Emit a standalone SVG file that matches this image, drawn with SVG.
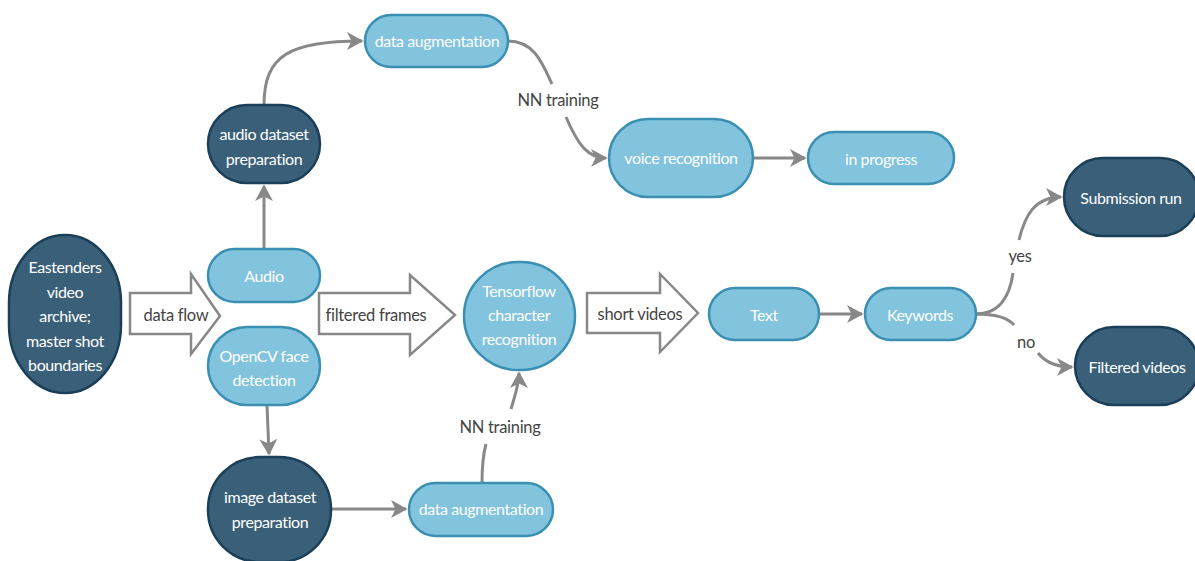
<svg xmlns="http://www.w3.org/2000/svg" width="1195" height="561" viewBox="0 0 1195 561">
<defs>
<style>
.lt{fill:#82c3dd;stroke:#3a8fb2;stroke-width:2.5}
.dk{fill:#3a6079;stroke:#1b3f58;stroke-width:2.5}
.nt{fill:#ffffff;font-family:Lato,"Open Sans",sans-serif;font-size:16px;letter-spacing:-0.4px;text-anchor:middle}
.lb{fill:#444444;font-family:Lato,"Open Sans",sans-serif;font-size:16.5px;letter-spacing:-0.3px;text-anchor:middle}
.cn{fill:none;stroke:#888888;stroke-width:3}
.ba{fill:#ffffff;stroke:#888888;stroke-width:2.5}
</style>
<marker id="ah" viewBox="0 0 12 12" refX="10" refY="6" markerWidth="6" markerHeight="6" markerUnits="strokeWidth" orient="auto">
<path d="M0,0 L11,6 L0,12 L3,6 z" fill="#888888"/>
</marker>
</defs>
<rect width="1195" height="561" fill="#ffffff"/>
<g id="connectors">
<path class="cn" d="M264,249 L264,186" marker-end="url(#ah)"/>
<path class="cn" d="M264,105 C264,55 290,41 362,41" marker-end="url(#ah)"/>
<path class="cn" d="M508,41 C535,41 543,65 552,84"/>
<path class="cn" d="M566,117 C578,145 588,158 606,158" marker-end="url(#ah)"/>
<path class="cn" d="M753,158 L805,158" marker-end="url(#ah)"/>
<path class="cn" d="M267,405 L269,454" marker-end="url(#ah)"/>
<path class="cn" d="M331,509 L406,509" marker-end="url(#ah)"/>
<path class="cn" d="M482,483 C482,465 483,455 486,444"/>
<path class="cn" d="M511,409 C515,395 519,385 519,373" marker-end="url(#ah)"/>
<path class="cn" d="M819,314 L862,314" marker-end="url(#ah)"/>
<path class="cn" d="M976,314 C1000,314 1010,295 1013,273"/>
<path class="cn" d="M1019,240 C1025,215 1035,197 1061,197" marker-end="url(#ah)"/>
<path class="cn" d="M976,314 C995,314 1008,318 1014,325"/>
<path class="cn" d="M1038,353 C1045,362 1055,367 1072,367" marker-end="url(#ah)"/>
</g>
<g id="labels">
<text class="lb" x="558" y="106">NN training</text>
<text class="lb" x="500" y="433">NN training</text>
<text class="lb" x="1020" y="262">yes</text>
<text class="lb" x="1026" y="348">no</text>
</g>
<g id="arrow-dataflow">
<path class="ba" d="M130,293 L191,293 L191,274 L220,316 L191,354 L191,334 L130,334 z"/>
<text class="lb" x="176" y="321">data flow</text>
</g>
<g id="arrow-filtered">
<path class="ba" d="M319,293 L410,293 L410,275 L455,315 L410,355 L410,334 L319,334 z"/>
<text class="lb" x="376" y="321">filtered frames</text>
</g>
<g id="arrow-short">
<path class="ba" d="M587,293 L660,293 L660,274 L698,313 L660,352 L660,333 L587,333 z"/>
<text class="lb" x="640" y="320">short videos</text>
</g>
<g id="n-eastenders">
<rect class="dk" x="9" y="235" width="112" height="158" rx="56" ry="68"/>
<text class="nt" x="65" y="273">Eastenders</text>
<text class="nt" x="65" y="297.5">video</text>
<text class="nt" x="65" y="322">archive;</text>
<text class="nt" x="65" y="346.5">master shot</text>
<text class="nt" x="65" y="371">boundaries</text>
</g>
<g id="n-audio">
<rect class="lt" x="208" y="249" width="112" height="53" rx="26.5"/>
<text class="nt" x="264" y="282">Audio</text>
</g>
<g id="n-opencv">
<rect class="lt" x="208" y="327" width="112" height="78" rx="39"/>
<text class="nt" x="264" y="362">OpenCV face</text>
<text class="nt" x="264" y="386">detection</text>
</g>
<g id="n-audioprep">
<rect class="dk" x="208" y="105" width="112" height="78" rx="39"/>
<text class="nt" x="264" y="140">audio dataset</text>
<text class="nt" x="264" y="165">preparation</text>
</g>
<g id="n-dataaug-top">
<rect class="lt" x="365" y="15" width="143" height="52" rx="26"/>
<text class="nt" x="437" y="47">data augmentation</text>
</g>
<g id="n-voice">
<rect class="lt" x="609" y="119" width="144" height="78" rx="39"/>
<text class="nt" x="681" y="164">voice recognition</text>
</g>
<g id="n-progress">
<rect class="lt" x="808" y="132" width="146" height="52" rx="26"/>
<text class="nt" x="881" y="165">in progress</text>
</g>
<g id="n-tensorflow">
<rect class="lt" x="464" y="262" width="111" height="108" rx="54"/>
<text class="nt" x="519" y="297">Tensorflow</text>
<text class="nt" x="519" y="321">character</text>
<text class="nt" x="519" y="345">recognition</text>
</g>
<g id="n-text">
<rect class="lt" x="709" y="288" width="110" height="52" rx="26"/>
<text class="nt" x="764" y="321">Text</text>
</g>
<g id="n-keywords">
<rect class="lt" x="865" y="288" width="111" height="52" rx="26"/>
<text class="nt" x="920" y="321">Keywords</text>
</g>
<g id="n-submission">
<rect class="dk" x="1064" y="158" width="135" height="78" rx="39"/>
<text class="nt" x="1131" y="204">Submission run</text>
</g>
<g id="n-filtered">
<rect class="dk" x="1075" y="327" width="124" height="78" rx="39"/>
<text class="nt" x="1137" y="373">Filtered videos</text>
</g>
<g id="n-imageprep">
<rect class="dk" x="208" y="457" width="123" height="105" rx="52"/>
<text class="nt" x="270" y="503">image dataset</text>
<text class="nt" x="270" y="528">preparation</text>
</g>
<g id="n-dataaug-bottom">
<rect class="lt" x="409" y="483" width="144" height="53" rx="26.5"/>
<text class="nt" x="481" y="515">data augmentation</text>
</g>
</svg>
